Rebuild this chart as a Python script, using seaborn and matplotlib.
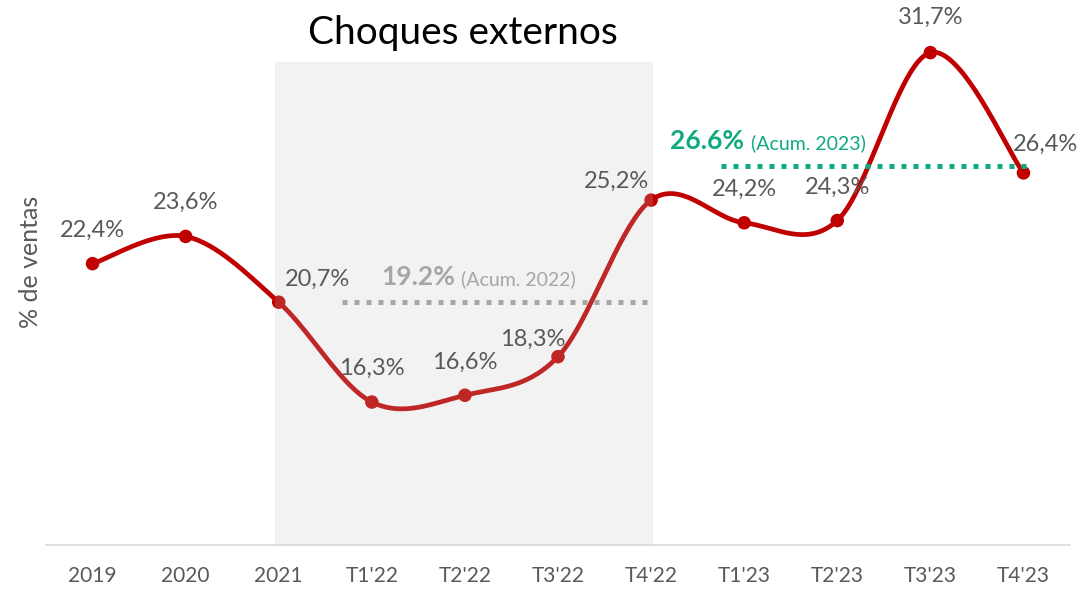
import numpy as np
import pandas as pd
import matplotlib
matplotlib.use("Agg")
import matplotlib.pyplot as plt
from matplotlib.patches import Rectangle
import seaborn as sns

# datos
periodos = ["2019", "2020", "2021", "T1'22", "T2'22", "T3'22", "T4'22",
            "T1'23", "T2'23", "T3'23", "T4'23"]
valores = [22.4, 23.6, 20.7, 16.3, 16.6, 18.3, 25.2, 24.2, 24.3, 31.7, 26.4]
etiquetas = ["22,4%", "23,6%", "20,7%", "16,3%", "16,6%", "18,3%", "25,2%",
             "24,2%", "24,3%", "31,7%", "26,4%"]
acum_2022 = 20.7   # altura de la línea punteada en el gráfico
acum_2023 = 26.7
texto_2022 = ("19.2%", "(Acum. 2022)")
texto_2023 = ("26.6%", "(Acum. 2023)")

ROJO = "#C00000"
GRIS = "#595959"
GRIS_CLARO = "#A6A6A6"
VERDE = "#10A981"

sns.set_style("white")
plt.rcParams["font.family"] = ["Lato", "DejaVu Sans"]

# curva suavizada estilo Excel (Bezier / Catmull-Rom)
x = np.arange(len(valores), dtype=float)
y = np.array(valores)
px = np.concatenate([[x[0]], x, [x[-1]]])
py = np.concatenate([[y[0]], y, [y[-1]]])
t = np.linspace(0, 1, 40)[:, None]
xs, ys = [], []
for i in range(len(x) - 1):
    p0 = np.array([px[i + 1], py[i + 1]])
    p3 = np.array([px[i + 2], py[i + 2]])
    p1 = p0 + (p3 - np.array([px[i], py[i]])) / 6
    p2 = p3 - (np.array([px[i + 3], py[i + 3]]) - p0) / 6
    b = ((1 - t) ** 3) * p0 + 3 * ((1 - t) ** 2) * t * p1 + 3 * (1 - t) * t ** 2 * p2 + t ** 3 * p3
    xs.extend(b[:, 0])
    ys.extend(b[:, 1])
curva = pd.DataFrame({"x": xs, "y": ys})
puntos = pd.DataFrame({"x": x, "y": y})

fig = plt.figure(figsize=(10.86, 5.89), dpi=100)
ax = fig.add_axes([46 / 1086, 44 / 589, 1024 / 1086, 545 / 589])

sns.lineplot(data=curva, x="x", y="y", sort=False, estimator=None,
             color=ROJO, linewidth=3.4, ax=ax, zorder=2)
sns.scatterplot(data=puntos, x="x", y="y", color=ROJO, s=95,
                edgecolor="none", ax=ax, zorder=2.5)

# zona sombreada 2021 - T4'22
ax.add_patch(Rectangle((1.955, 10), 6.02 - 1.955, 31.27 - 10,
                       facecolor="#BFBFBF", alpha=0.2, edgecolor="none", zorder=3))

# líneas de acumulado
ax.plot([2.68, 6.0], [acum_2022, acum_2022], color=GRIS_CLARO, linewidth=3.6,
        dashes=(1, 1.4), solid_capstyle="butt", zorder=4)
ax.plot([6.75, 10.03], [acum_2023, acum_2023], color=VERDE, linewidth=3.6,
        dashes=(1, 1.4), solid_capstyle="butt", zorder=4)

ax.annotate(texto_2022[0], (2.68, acum_2022), xytext=(39, 25), textcoords="offset pixels",
            fontsize=19, fontweight="bold", color=GRIS_CLARO, va="center", ha="left", zorder=5)
ax.annotate(texto_2022[1], (2.68, acum_2022), xytext=(119, 23), textcoords="offset pixels",
            fontsize=14, color=GRIS_CLARO, va="center", ha="left", zorder=5)
ax.annotate(texto_2023[0], (6.75, acum_2023), xytext=(-51, 25), textcoords="offset pixels",
            fontsize=19, fontweight="bold", color=VERDE, va="center", ha="left", zorder=5)
ax.annotate(texto_2023[1], (6.75, acum_2023), xytext=(30, 23), textcoords="offset pixels",
            fontsize=14, color=VERDE, va="center", ha="left", zorder=5)

# etiquetas de datos
desplaz = [(0, 33), (0, 34), (39, 23), (0, 34), (0, 33), (-25, 17), (-35, 19),
           (0, 33), (0, 33), (0, 35), (22, 29)]
for xi, yi, txt, (dx, dy) in zip(x, y, etiquetas, desplaz):
    ax.annotate(txt, (xi, yi), xytext=(dx, dy), textcoords="offset pixels",
                ha="center", va="center", fontsize=17, color=GRIS, zorder=5)

ax.set_xlim(-0.5, len(periodos) - 0.5)
ax.set_ylim(10, 10 + 545 / 22.69)
ax.set_xticks(x)
ax.set_xticklabels(periodos, fontsize=15, color=GRIS)
ax.set_xticks(np.arange(-0.5, len(periodos)), minor=True)
ax.tick_params(axis="x", which="major", length=0, pad=15)
ax.tick_params(axis="x", which="minor", length=6, color="#D9D9D9", width=1.2)
ax.set_yticks([])
ax.set_xlabel("")
ax.set_ylabel("")
for s in ["top", "right", "left"]:
    ax.spines[s].set_visible(False)
ax.spines["bottom"].set_color("#D9D9D9")
ax.spines["bottom"].set_linewidth(1.2)

fig.text(30 / 1086, 1 - 262 / 589, "% de ventas", rotation=90, ha="center", va="center",
         fontsize=18, color=GRIS)
fig.text(463 / 1086, 1 - 33 / 589, "Choques externos", ha="center", va="center",
         fontsize=28, color="black")

fig.savefig("out.png", dpi=100)
